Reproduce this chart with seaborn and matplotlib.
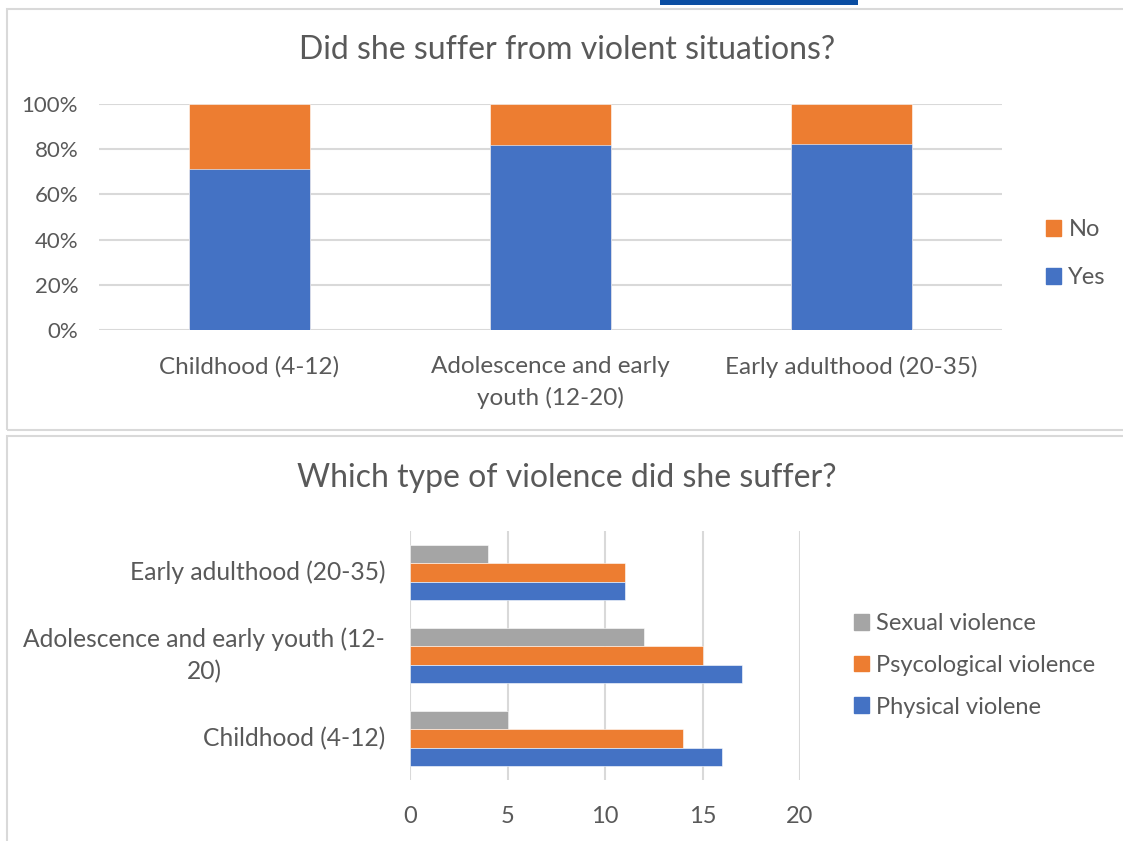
import numpy as np
import pandas as pd
import matplotlib
matplotlib.use("Agg")
import matplotlib.pyplot as plt
import seaborn as sns
from matplotlib.patches import Rectangle, Patch

# ---------------- data ----------------
periods = ["Childhood (4-12)", "Adolescence and early youth (12-20)", "Early adulthood (20-35)"]
top_tick_labels = ["Childhood (4-12)", "Adolescence and early\nyouth (12-20)", "Early adulthood (20-35)"]
yes_pct = [71.4, 81.8, 82.4]
no_pct = [28.6, 18.2, 17.6]
top_legend = ["No", "Yes"]
pct_ticks = [0, 20, 40, 60, 80, 100]
pct_labels = ["0%", "20%", "40%", "60%", "80%", "100%"]

bottom_order = ["Early adulthood (20-35)", "Adolescence and early youth (12-20)", "Childhood (4-12)"]
bottom_tick_labels = ["Early adulthood (20-35)", "Adolescence and early youth (12-\n20)", "Childhood (4-12)"]
violence_types = ["Sexual violence", "Psycological violence", "Physical violene"]
sexual = [5, 12, 4]       # Childhood, Adolescence, Early adulthood
psychological = [14, 15, 11]
physical = [16, 17, 11]
count_ticks = [0, 5, 10, 15, 20]

title_top = "Did she suffer from violent situations?"
title_bottom = "Which type of violence did she suffer?"

# ---------------- style ----------------
BLUE = "#4472C4"
ORANGE = "#ED7D31"
GRAY = "#A5A5A5"
GRID = "#d9d9d9"
TXT = "#595959"

sns.set_theme(style="white")
plt.rcParams["font.family"] = ["Lato", "DejaVu Sans"]

W, H = 1123, 841
fig = plt.figure(figsize=(W / 100, H / 100), dpi=100)
fig.patch.set_facecolor("white")

def fx(px):
    return px / W

def fy(py):
    return 1 - py / H

# frames
fig.patches.append(Rectangle((fx(7), fy(430)), fx(1140 - 7), (430 - 9) / H, transform=fig.transFigure,
                             fill=False, ec=GRID, lw=1.5, zorder=0))
fig.patches.append(Rectangle((fx(7), fy(860)), fx(1140 - 7), (860 - 436) / H, transform=fig.transFigure,
                             fill=False, ec=GRID, lw=1.5, zorder=0))
# blue strip at top
fig.patches.append(Rectangle((fx(660), fy(5)), fx(198), 6 / H, transform=fig.transFigure,
                             fc="#0b4ea2", ec="none", zorder=1))

# ---------------- top chart ----------------
ax1 = fig.add_axes([fx(99), fy(330), fx(1002 - 99), (330 - 104) / H])
df_top = pd.DataFrame({"period": periods, "yes": yes_pct,
                       "total": [y + n for y, n in zip(yes_pct, no_pct)]})
sns.barplot(data=df_top, x="period", y="total", color=ORANGE, width=0.4, saturation=1,
            edgecolor="white", linewidth=0.4, ax=ax1, zorder=3)
sns.barplot(data=df_top, x="period", y="yes", color=BLUE, width=0.4, saturation=1,
            edgecolor="white", linewidth=0.4, ax=ax1, zorder=3)
ax1.set_ylim(0, 100)
ax1.set_yticks(pct_ticks)
ax1.set_yticklabels(pct_labels)
ax1.set_xticks(range(len(periods)))
ax1.set_xticklabels(top_tick_labels, multialignment="center", linespacing=1.55)
ax1.set_xlabel("")
ax1.set_ylabel("")
for s in ax1.spines.values():
    s.set_visible(False)
ax1.yaxis.grid(True, color=GRID, lw=1.5)
ax1.set_axisbelow(True)
ax1.tick_params(axis="y", length=0, pad=15, labelsize=16, labelcolor=TXT)
ax1.tick_params(axis="x", length=0, pad=18.5, labelsize=17.5, labelcolor=TXT)
fig.text(fx(567), fy(50), title_top, ha="center", va="center", fontsize=23, color=TXT)
h_top = [Patch(color=ORANGE), Patch(color=BLUE)]
fig.legend(h_top, top_legend, loc="upper left", bbox_to_anchor=(fx(1046), fy(219)),
           frameon=False, fontsize=17, labelcolor=TXT, handlelength=0.65, handleheight=0.65,
           handletextpad=0.3, labelspacing=1.15, borderpad=0, borderaxespad=0)

# ---------------- bottom chart ----------------
ax2 = fig.add_axes([fx(410), fy(780), fx(800 - 410), (780 - 531) / H])
rows = []
for i, p in enumerate(periods):
    rows.append((p, violence_types[0], sexual[i]))
    rows.append((p, violence_types[1], psychological[i]))
    rows.append((p, violence_types[2], physical[i]))
df_bot = pd.DataFrame(rows, columns=["period", "type", "count"])
sns.barplot(data=df_bot, y="period", x="count", hue="type", order=bottom_order,
            hue_order=violence_types, palette=[GRAY, ORANGE, BLUE], orient="h",
            width=0.66, saturation=1, edgecolor="white", linewidth=0.4, ax=ax2, zorder=3)
leg = ax2.get_legend()
if leg is not None:
    leg.remove()
ax2.set_xlim(0, 20)
ax2.set_xticks(count_ticks)
ax2.set_yticks(range(len(bottom_order)))
ax2.set_yticklabels(bottom_tick_labels, multialignment="center", linespacing=1.45)
for t in ax2.get_yticklabels():
    t.set_verticalalignment("center")
ax2.set_xlabel("")
ax2.set_ylabel("")
for s in ax2.spines.values():
    s.set_visible(False)
ax2.xaxis.grid(True, color=GRID, lw=1.5)
ax2.set_axisbelow(True)
ax2.tick_params(axis="y", length=0, pad=18, labelsize=17.7, labelcolor=TXT)
ax2.tick_params(axis="x", length=0, pad=19, labelsize=17, labelcolor=TXT)
fig.text(fx(567), fy(478), title_bottom, ha="center", va="center", fontsize=23, color=TXT)
h_bot = [Patch(color=GRAY), Patch(color=ORANGE), Patch(color=BLUE)]
fig.legend(h_bot, violence_types, loc="upper left", bbox_to_anchor=(fx(854), fy(613)),
           frameon=False, fontsize=17, labelcolor=TXT, handlelength=0.65, handleheight=0.65,
           handletextpad=0.3, labelspacing=0.88, borderpad=0, borderaxespad=0)

fig.savefig("out.png", dpi=100, facecolor="white")
